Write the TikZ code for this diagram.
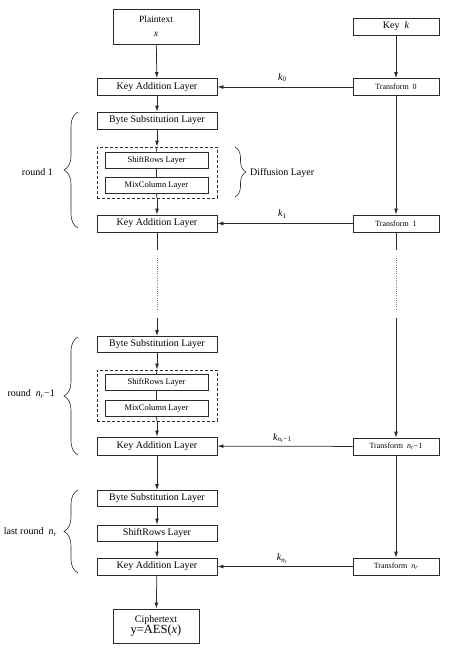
\documentclass[tikz,border=0pt]{standalone}
\usepackage{fontspec}
\setmainfont{Liberation Serif}
\usetikzlibrary{arrows.meta,decorations.pathreplacing}
\definecolor{ln}{HTML}{2A2A2A}
\tikzset{
  box/.style={draw=ln,line width=0.75pt,minimum width=120pt,minimum height=17pt,inner sep=0pt,font=\fontsize{10}{12}\selectfont,align=center},
  sbox/.style={draw=ln,line width=0.75pt,minimum width=103pt,minimum height=16pt,inner sep=0pt,font=\fontsize{8.5}{10}\selectfont},
  tbox/.style={draw=ln,line width=0.75pt,minimum width=86pt,minimum height=17pt,inner sep=0pt,font=\fontsize{8}{10}\selectfont},
  dbox/.style={draw=ln,line width=0.75pt,dash pattern=on 3pt off 2pt,minimum width=120pt,minimum height=51pt,inner sep=0pt},
  arr/.style={draw=ln,line width=0.75pt,-{Latex[length=6pt,width=3.8pt]}},
  con/.style={draw=ln,line width=0.75pt},
  dots/.style={draw=gray,line width=0.5pt,dash pattern=on 0.6pt off 1.6pt},
  brc/.style={draw=ln,line width=0.6pt,decorate,decoration={brace,amplitude=#1}},
  klab/.style={font=\fontsize{10}{12}\selectfont,inner sep=0pt},
  blab/.style={font=\fontsize{10}{12}\selectfont,inner sep=0pt,anchor=east}
}
\begin{document}
\begin{tikzpicture}[x=1pt,y=-1pt]
\useasboundingbox (0,0) rectangle (474,651);
% left column
\node[box,minimum width=86pt,minimum height=35pt,font=\fontsize{9.5}{14}\selectfont] (plain) at (156,26.5) {Plaintext\\\textit{x}};
\node[box] (ka0) at (157,87) {Key Addition Layer};
\node[box] (bs1) at (157,120.5) {Byte Substitution Layer};
\node[dbox] (d1) at (157,172.5) {};
\node[sbox] (sr1) at (156.5,160) {ShiftRows Layer};
\node[sbox] (mc1) at (156.5,185.5) {MixColumn Layer};
\node[box] (ka1) at (157,223.5) {Key Addition Layer};
\node[box,minimum height=16pt] (bs2) at (157,344.5) {Byte Substitution Layer};
\node[dbox] (d2) at (157,395.5) {};
\node[sbox] (sr2) at (156.5,382.5) {ShiftRows Layer};
\node[sbox] (mc2) at (156.5,408.5) {MixColumn Layer};
\node[box,minimum height=18pt] (ka2) at (157,446) {Key Addition Layer};
\node[box,minimum height=16pt] (bs3) at (157,498.5) {Byte Substitution Layer};
\node[box,minimum height=16pt] (sr3) at (157,533) {ShiftRows Layer};
\node[box] (ka3) at (157,566.5) {Key Addition Layer};
\node[box,minimum width=86pt,minimum height=34pt] (ciph) at (156,626) {Ciphertext\\[-1pt]{\fontsize{12.5}{14}\selectfont y=AES(\textit{x})}};
% right column
\node[tbox,font=\fontsize{10}{12}\selectfont] (key) at (396,26.5) {Key\enspace\textit{k}};
\node[tbox] (t0) at (396,87) {Transform\enspace 0};
\node[tbox] (t1) at (396,223.5) {Transform\enspace 1};
\node[tbox] (t2) at (396,446.5) {Transform\enspace \textit{n}\textsubscript{\textit{r}}−1};
\node[tbox] (t3) at (396,566.5) {Transform\enspace \textit{n}\textsubscript{\textit{r}}};
% vertical connectors left
\draw[arr] (plain) -- (ka0);
\draw[arr] (ka0) -- (bs1);
\draw[arr] (bs1) -- (d1);
\draw[con] (d1.north) -- (sr1.north);
\draw[con] (sr1) -- (mc1);
\draw[con] (mc1.south) -- (d1.south);
\draw[arr] (d1) -- (ka1);
\coordinate (l1) at (157,250);
\coordinate (l2) at (157,258);
\coordinate (l3) at (157,310);
\coordinate (l4) at (157,318);
\draw[con] (ka1) -- (l1);
\draw[dots] (l2) -- (l3);
\draw[arr] (l4) -- (bs2);
\draw[arr] (bs2) -- (d2);
\draw[con] (d2.north) -- (sr2.north);
\draw[con] (sr2) -- (mc2);
\draw[con] (mc2.south) -- (d2.south);
\draw[arr] (d2) -- (ka2);
\draw[arr] (ka2) -- (bs3);
\draw[arr] (bs3) -- (sr3);
\draw[arr] (sr3) -- (ka3);
\draw[arr] (ka3) -- (ciph);
% right column connectors
\draw[arr] (key) -- (t0);
\draw[arr] (t0) -- (t1);
\coordinate (r1) at (396,250);
\coordinate (r2) at (396,258);
\coordinate (r3) at (396,310);
\coordinate (r4) at (396,318);
\draw[con] (t1) -- (r1);
\draw[dots] (r2) -- (r3);
\draw[arr] (r4) -- (t2);
\draw[arr] (t2) -- (t3);
% key connectors
\draw[arr] (t0) -- node[klab,above=5pt,pos=0.52] (k0) {\textit{k}\textsubscript{0}} (ka0);
\draw[arr] (t1) -- node[klab,above=5pt,pos=0.52] (k1) {\textit{k}\textsubscript{1}} (ka1);
\draw[arr] (t2) -- node[klab,above=3pt,pos=0.52] (k2) {\textit{k}\textsubscript{\textit{n}\textsubscript{\textit{r}}−1}} (ka2);
\draw[arr] (t3) -- node[klab,above=3pt,pos=0.52] (k3) {\textit{k}\textsubscript{\textit{n}\textsubscript{\textit{r}}}} (ka3);
% braces
\coordinate (b1a) at (78,228);
\coordinate (b1b) at (78,112);
\draw[brc=14pt] (b1a) -- (b1b);
\node[blab] (lab1) at (53,172) {round 1};
\coordinate (dfa) at (235,147);
\coordinate (dfb) at (235,197);
\draw[brc=11pt] (dfa) -- (dfb);
\node[klab,anchor=west] (dlab) at (250,173) {Diffusion Layer};
\coordinate (b2a) at (78,455);
\coordinate (b2b) at (78,337);
\draw[brc=14pt] (b2a) -- (b2b);
\node[blab] (lab2) at (55,394) {round\enspace\textit{n}\textsubscript{\textit{r}}−1};
\coordinate (b3a) at (78,573);
\coordinate (b3b) at (78,490);
\draw[brc=14pt] (b3a) -- (b3b);
\node[blab] (lab3) at (57,532) {last round\enspace\textit{n}\textsubscript{\textit{r}}};
\end{tikzpicture}
\end{document}
